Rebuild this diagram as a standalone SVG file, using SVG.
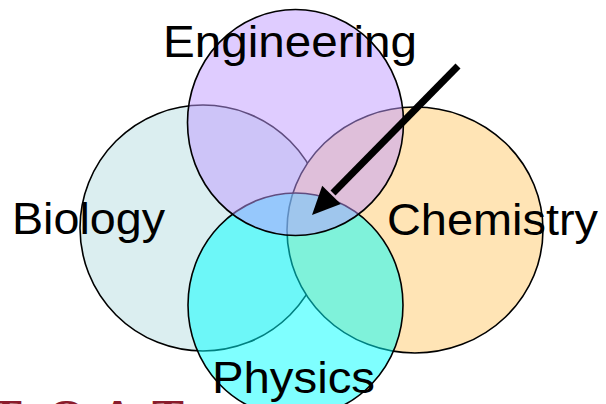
<svg xmlns="http://www.w3.org/2000/svg" width="606" height="404" viewBox="0 0 606 404">
<style>
.c{stroke:#000;stroke-width:1.6}
.lbl{font-family:"Liberation Sans",Arial,sans-serif;font-size:45px;fill:#000}
.frag{font-family:"Liberation Serif","Times New Roman",serif;font-weight:bold;font-size:48px;fill:#8a1c2c}
</style>
<rect width="606" height="404" fill="#fff"/>
<g id="biology"><ellipse class="c" cx="203" cy="228" rx="123" ry="123" fill="#dbeef0"/></g>
<g id="chemistry"><ellipse class="c" cx="415" cy="230" rx="128" ry="123" fill="#ffe4b5"/></g>
<g id="physics"><ellipse class="c" cx="295.5" cy="305" rx="107.5" ry="112" fill="#00ffff" fill-opacity="0.5"/></g>
<g id="engineering"><ellipse class="c" cx="295.5" cy="122.5" rx="108" ry="113" fill="#c099ff" fill-opacity="0.5"/></g>
<g id="labels">
<text class="lbl" x="163" y="57" textLength="254" lengthAdjust="spacingAndGlyphs">Engineering</text>
<text class="lbl" x="12" y="234" textLength="153" lengthAdjust="spacingAndGlyphs">Biology</text>
<text class="lbl" x="387" y="235" textLength="211" lengthAdjust="spacingAndGlyphs">Chemistry</text>
<text class="lbl" x="212" y="393" textLength="163" lengthAdjust="spacingAndGlyphs">Physics</text>
</g>
<g id="connectors">
<line x1="458" y1="66" x2="333" y2="193" stroke="#000" stroke-width="7"/>
<polygon points="312,215 340.8,204 322.2,185.8" fill="#000"/>
</g>
<text class="frag" x="-10 48 100 152" y="433">TOAT</text>
</svg>
